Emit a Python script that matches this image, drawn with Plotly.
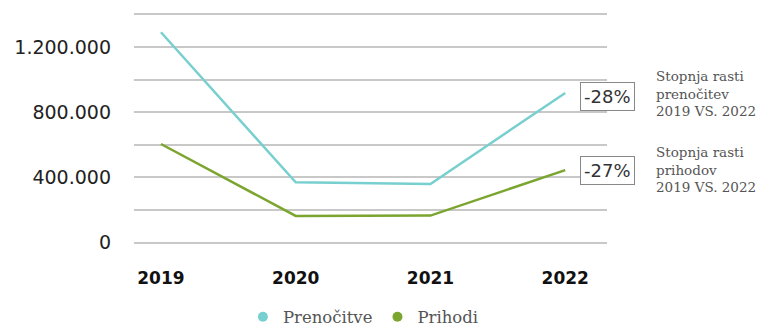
import plotly.graph_objects as go

years = ["2019", "2020", "2021", "2022"]
prenocitve = [1290000, 370000, 360000, 918000]
prihodi = [605000, 164000, 166000, 445000]
grid_vals = [0, 200000, 400000, 600000, 800000, 1000000, 1200000, 1400000]
grid_text = ["0", "", "400.000", "", "800.000", "", "1.200.000", ""]
growth_labels = ["-28%", "-27%"]
growth_notes = ["Stopnja rasti<br>prenočitev<br>2019 VS. 2022",
                "Stopnja rasti<br>prihodov<br>2019 VS. 2022"]
series_names = ["Prenočitve", "Prihodi"]

c_pren = "#78CFCF"
c_prih = "#7BA52F"
colors = [c_pren, c_prih]

xs = list(range(len(years)))
fig = go.Figure()
for name, vals, col in zip(series_names, [prenocitve, prihodi], colors):
    fig.add_trace(go.Scatter(x=xs, y=vals, name=name, mode="lines",
                             line=dict(color=col, width=2.5), showlegend=False))
for name, col in zip(series_names, colors):
    fig.add_trace(go.Scatter(x=[None], y=[None], name=name, mode="markers",
                             marker=dict(color=col, size=10, symbol="circle"),
                             showlegend=True))

fig.update_layout(
    width=761, height=327,
    margin=dict(l=134, r=154, t=13, b=83, autoexpand=False),
    paper_bgcolor="white", plot_bgcolor="white",
    showlegend=True,
    legend=dict(orientation="h", x=0.485, xanchor="center", y=-0.316, yanchor="middle",
                font=dict(family="DejaVu Serif", size=16.5, color="#555555"),
                itemwidth=30, traceorder="normal"),
    xaxis=dict(range=[-0.2, 3.31], tickvals=xs, ticktext=years,
               showgrid=False, zeroline=False, showline=False, ticks="",
               tickfont=dict(family="DejaVu Sans", size=17, color="#111111", weight="bold"),
               ticklabelstandoff=22),
    yaxis=dict(range=[-8000, 1408000], tickvals=grid_vals, ticktext=grid_text,
               showgrid=True, gridcolor="#C8C8C8", gridwidth=1.5,
               zeroline=False, showline=False, ticks="",
               tickfont=dict(family="DejaVu Sans", size=19, color="#222222"),
               ticklabelstandoff=22),
)

box_y = [898000, 445000]
note_y = [914000, 448000]
for lab, note, by, ny in zip(growth_labels, growth_notes, box_y, note_y):
    fig.add_annotation(x=1.0, y=by, xref="paper", yref="y", xanchor="left", yanchor="middle",
                       xshift=-27, text=lab, showarrow=False,
                       font=dict(family="DejaVu Sans", size=18, color="#333333"),
                       bordercolor="#888888", borderwidth=1, borderpad=3, bgcolor="white")
    fig.add_annotation(x=1.0, y=ny, xref="paper", yref="y", xanchor="left", yanchor="middle",
                       xshift=47, text=note, showarrow=False, align="left",
                       font=dict(family="DejaVu Serif", size=13.5, color="#555555"))

fig.write_html("out.html")
